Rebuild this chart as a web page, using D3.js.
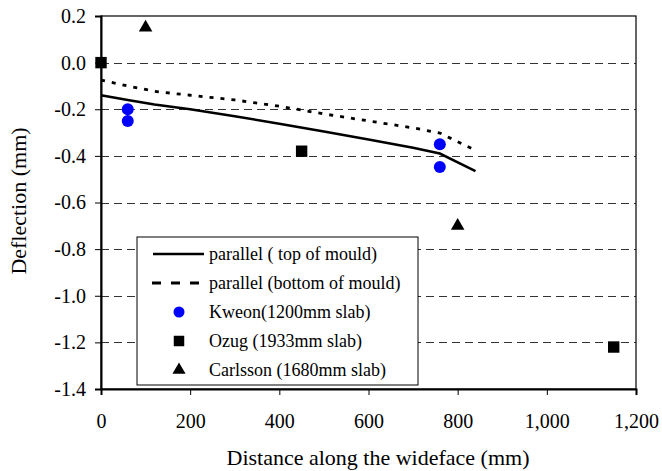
<!DOCTYPE html>
<html>
<head>
<meta charset="utf-8">
<script src="https://cdn.jsdelivr.net/npm/d3@7"></script>
<style>
  body { margin: 0; background: #fff; }
  text { font-family: "Liberation Serif", "Times New Roman", serif; fill: #000; }
</style>
</head>
<body>
<div id="chart"></div>
<script>
// data
const topDist = [0, 60, 120, 200, 300, 400, 500, 600, 700, 760, 840];
const topDefl = [-0.14, -0.16, -0.18, -0.20, -0.23, -0.262, -0.295, -0.33, -0.365, -0.39, -0.465];
const botDist = [0, 60, 120, 200, 300, 400, 500, 600, 700, 760, 840];
const botDefl = [-0.075, -0.10, -0.123, -0.14, -0.16, -0.187, -0.22, -0.25, -0.28, -0.302, -0.376];
const kweon = [[60, -0.2], [60, -0.25], [760, -0.35], [760, -0.448]];
const ozug = [[0, 0], [450, -0.38], [1150, -1.22]];
const carlsson = [[100, 0.15], [800, -0.70]];
const xTicks = [0, 200, 400, 600, 800, 1000, 1200];
const yTicks = [0.2, 0.0, -0.2, -0.4, -0.6, -0.8, -1.0, -1.2, -1.4];
const legendLabels = [
  "parallel ( top of mould)",
  "parallel (bottom of mould)",
  "Kweon(1200mm slab)",
  "Ozug (1933mm slab)",
  "Carlsson (1680mm slab)"
];

(function() {
  const width = 662;
  const height = 471;
  const margin = {left: 101, right: 26, top: 16, bottom: 82};
  const serif = "'Liberation Serif', 'Times New Roman', serif";

  const svg = d3.select("#chart")
    .append("svg")
    .attr("width", width)
    .attr("height", height);

  const x = d3.scaleLinear().domain([0, 1200]).range([margin.left, width - margin.right]);
  const y = d3.scaleLinear().domain([-1.4, 0.2]).range([height - margin.bottom, margin.top]);

  // dashed gridlines
  svg.append("g")
    .selectAll("line")
    .data(yTicks.filter(d => d > -1.39 && d < 0.19))
    .join("line")
    .attr("x1", x(0))
    .attr("x2", x(1200))
    .attr("y1", d => Math.round(y(d)) + 0.5)
    .attr("y2", d => Math.round(y(d)) + 0.5)
    .style("stroke", "#333")
    .style("stroke-width", 1)
    .style("stroke-dasharray", "8,5");

  // frame
  svg.append("rect")
    .attr("x", x(0))
    .attr("y", y(0.2))
    .attr("width", x(1200) - x(0))
    .attr("height", y(-1.4) - y(0.2))
    .style("fill", "none")
    .style("stroke", "#000")
    .style("stroke-width", 1.2);

  // axes
  const xAxis = svg.append("g")
    .attr("transform", `translate(0,${y(-1.4)})`)
    .call(d3.axisBottom(x).tickValues(xTicks).tickSize(6).tickPadding(19)
      .tickFormat(d3.format(",")));
  const yAxis = svg.append("g")
    .attr("transform", `translate(${x(0)},0)`)
    .call(d3.axisLeft(y).tickValues(yTicks).tickSize(6).tickPadding(9)
      .tickFormat(d => d3.format(".1f")(d).replace("−", "-")));
  [xAxis, yAxis].forEach(a => {
    a.attr("font-family", serif).attr("font-size", 20);
    a.select(".domain").style("stroke", "#000").style("stroke-width", 2);
    a.selectAll(".tick line").style("stroke", "#000");
    a.selectAll("text").attr("fill", "#000");
  });

  // lines
  const line = d3.line().x(d => x(d[0])).y(d => y(d[1]));
  svg.append("path")
    .datum(d3.zip(topDist, topDefl))
    .attr("d", line)
    .style("fill", "none")
    .style("stroke", "#000")
    .style("stroke-width", 2.5);
  svg.append("path")
    .datum(d3.zip(botDist, botDefl))
    .attr("d", line)
    .style("fill", "none")
    .style("stroke", "#000")
    .style("stroke-width", 2.8)
    .style("stroke-dasharray", "4,7");

  // markers
  const sym = (type, size) => d3.symbol().type(type).size(size)();
  svg.selectAll(".kweon")
    .data(kweon)
    .join("circle")
    .attr("cx", d => x(d[0]))
    .attr("cy", d => y(d[1]))
    .attr("r", 6)
    .style("fill", "#0000ff");
  svg.selectAll(".ozug")
    .data(ozug)
    .join("path")
    .attr("d", sym(d3.symbolSquare, 130))
    .attr("transform", d => `translate(${x(d[0])},${y(d[1])})`)
    .style("fill", "#000");
  svg.selectAll(".carlsson")
    .data(carlsson)
    .join("path")
    .attr("d", sym(d3.symbolTriangle, 80))
    .attr("transform", d => `translate(${x(d[0])},${y(d[1])})`)
    .style("fill", "#000");

  // legend
  const lg = svg.append("g").attr("transform", "translate(137,237)");
  lg.append("rect")
    .attr("width", 281)
    .attr("height", 148)
    .style("fill", "#fff")
    .style("stroke", "#000")
    .style("stroke-width", 1);
  const rowY = i => 17 + i * 29;
  lg.append("line")
    .attr("x1", 16).attr("x2", 67).attr("y1", rowY(0)).attr("y2", rowY(0))
    .style("stroke", "#000").style("stroke-width", 2.5);
  lg.append("line")
    .attr("x1", 15).attr("x2", 62).attr("y1", rowY(1)).attr("y2", rowY(1))
    .style("stroke", "#000").style("stroke-width", 3)
    .style("stroke-dasharray", "9,10");
  lg.append("circle").attr("cx", 42).attr("cy", rowY(2)).attr("r", 5.5).style("fill", "#0000ff");
  lg.append("path").attr("d", sym(d3.symbolSquare, 110))
    .attr("transform", `translate(42,${rowY(3)})`).style("fill", "#000");
  lg.append("path").attr("d", sym(d3.symbolTriangle, 75))
    .attr("transform", `translate(42,${rowY(4)})`).style("fill", "#000");
  lg.selectAll(".lab")
    .data(legendLabels)
    .join("text")
    .attr("x", 72)
    .attr("y", (d, i) => rowY(i))
    .attr("dy", "0.35em")
    .style("font-size", "18px")
    .text(d => d);

  // axis titles
  svg.append("text")
    .attr("x", 378)
    .attr("y", 465)
    .attr("text-anchor", "middle")
    .style("font-size", "22px")
    .text("Distance along the wideface (mm)");
  svg.append("text")
    .attr("transform", "translate(26,201) rotate(-90)")
    .attr("text-anchor", "middle")
    .style("font-size", "22px")
    .text("Deflection (mm)");
})();
</script>
</body>
</html>
